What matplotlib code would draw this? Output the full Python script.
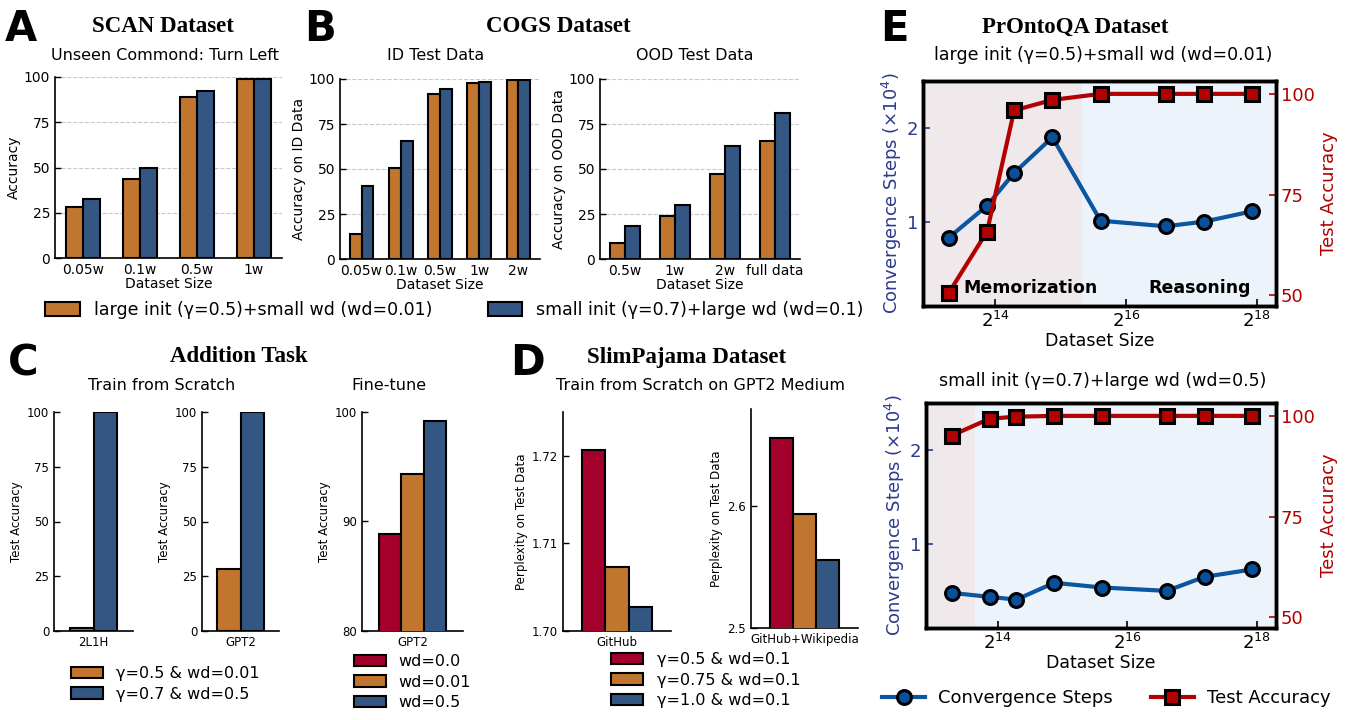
import numpy as np
import matplotlib
matplotlib.use("Agg")
import matplotlib.pyplot as plt
from matplotlib.patches import Patch
from matplotlib.lines import Line2D
from matplotlib.ticker import FormatStrFormatter, NullLocator

# ---------------- data ----------------
scan_sizes = ['0.05w', '0.1w', '0.5w', '1w']
scan_large = [28.0, 43.6, 89.1, 98.8]
scan_small = [32.5, 49.5, 92.1, 98.8]

cogs_id_sizes = ['0.05w', '0.1w', '0.5w', '1w', '2w']
cogs_id_large = [13.9, 50.6, 91.7, 97.8, 99.3]
cogs_id_small = [40.4, 65.3, 94.4, 98.3, 99.6]

cogs_ood_sizes = ['0.5w', '1w', '2w', 'full data']
cogs_ood_large = [8.7, 23.9, 47.3, 65.3]
cogs_ood_small = [18.6, 30.1, 62.9, 80.9]

add_models = ['2L1H', 'GPT2']
add_large = [1.3, 28.2]
add_small = [100.0, 100.0]

ft_model = ['GPT2']
ft_labels = ['wd=0.0', 'wd=0.01', 'wd=0.5']
ft_values = [88.9, 94.3, 99.2]

slim_labels = ['γ=0.5 & wd=0.1', 'γ=0.75 & wd=0.1', 'γ=1.0 & wd=0.1']
slim_github = [1.7207, 1.7073, 1.7027]
slim_github_wiki = [2.656, 2.594, 2.556]

pronto_sizes = [10000, 15000, 20000, 30000, 50000, 100000, 150000, 250000]
top_steps = [0.83, 1.17, 1.52, 1.90, 1.01, 0.95, 1.00, 1.11]
top_acc = [50.6, 65.8, 95.9, 98.5, 100.0, 100.0, 100.0, 100.0]
bot_steps = [0.475, 0.432, 0.403, 0.582, 0.532, 0.496, 0.646, 0.725]
bot_acc = [95.1, 99.3, 99.8, 100.0, 100.0, 100.0, 100.0, 100.0]
top_phase_split = 41000
bot_phase_split = 12900

# ---------------- style ----------------
ORANGE = '#c1762f'
BLUE = '#345683'
RED = '#a3002b'
E_BLUE = '#0b56a0'
E_BLUE_MK = '#0a4f9a'
E_RED = '#b30000'
LEFT_C = '#2b3a8f'
RIGHT_C = '#b00000'
PINK_BG = '#f0e9ec'
BLUE_BG = '#edf3fa'

W, H = 1349, 720
fig = plt.figure(figsize=(W / 100, H / 100), dpi=100)


def px(x0, y0, x1, y1):
    return [x0 / W, 1 - y1 / H, (x1 - x0) / W, (y1 - y0) / H]


def ftext(x, y, s, **kw):
    fig.text(x / W, 1 - y / H, s, **kw)


def style_bar_ax(ax, fs):
    for s in ['top', 'right']:
        ax.spines[s].set_visible(False)
    for s in ['left', 'bottom']:
        ax.spines[s].set_linewidth(1.2)
    ax.tick_params(direction='in', labelsize=fs, length=4, width=1)


SERIF = ['Liberation Serif', 'DejaVu Serif']

# panel letters
for (x, y, s) in [(5, 41, 'A'), (304, 41, 'B'), (8, 375, 'C'), (510, 375, 'D'), (880, 41, 'E')]:
    ftext(x, y, s, fontsize=30, fontweight='heavy', va='baseline', ha='left')

# ---------------- A: SCAN ----------------
ftext(163, 26, 'SCAN Dataset', fontsize=16.5, fontweight='bold', family=SERIF, ha='center', va='center')
ftext(165, 56, 'Unseen Commond: Turn Left', fontsize=11.5, ha='center', va='center')
axA = fig.add_axes(px(55, 77, 282, 258))
x = np.arange(len(scan_sizes))
axA.bar(x - 0.15, scan_large, 0.3, color=ORANGE, edgecolor='black', linewidth=1.5, zorder=3)
axA.bar(x + 0.15, scan_small, 0.3, color=BLUE, edgecolor='black', linewidth=1.5, zorder=3)
axA.set_xticks(x, scan_sizes)
axA.set_xlim(-0.5, 3.5)
axA.set_ylim(0, 100)
axA.set_yticks([0, 25, 50, 75, 100])
axA.yaxis.grid(True, linestyle='--', color='#c8c8c8', linewidth=0.8, zorder=0)
axA.set_ylabel('Accuracy', fontsize=10, labelpad=2)
axA.set_xlabel('Dataset Size', fontsize=10, labelpad=0)
style_bar_ax(axA, 10)

# ---------------- B: COGS ----------------
ftext(558, 27, 'COGS Dataset', fontsize=16.5, fontweight='bold', family=SERIF, ha='center', va='center')
ftext(436, 55, 'ID Test Data', fontsize=11.5, ha='center', va='center')
ftext(695, 55, 'OOD Test Data', fontsize=11.5, ha='center', va='center')

axB1 = fig.add_axes(px(340, 79, 540, 259))
x = np.arange(len(cogs_id_sizes))
axB1.bar(x - 0.15, cogs_id_large, 0.3, color=ORANGE, edgecolor='black', linewidth=1.5, zorder=3)
axB1.bar(x + 0.15, cogs_id_small, 0.3, color=BLUE, edgecolor='black', linewidth=1.5, zorder=3)
axB1.set_xticks(x, cogs_id_sizes)
axB1.set_xlim(-0.55, 4.55)
axB1.set_ylim(0, 100)
axB1.set_yticks([0, 25, 50, 75, 100])
axB1.yaxis.grid(True, linestyle='--', color='#c8c8c8', linewidth=0.8, zorder=0)
axB1.set_ylabel('Accuracy on ID Data', fontsize=10, labelpad=2)
axB1.set_xlabel('Dataset Size', fontsize=10, labelpad=0)
style_bar_ax(axB1, 10)

axB2 = fig.add_axes(px(600, 79, 800, 259))
x = np.arange(len(cogs_ood_sizes))
axB2.bar(x - 0.15, cogs_ood_large, 0.3, color=ORANGE, edgecolor='black', linewidth=1.5, zorder=3)
axB2.bar(x + 0.15, cogs_ood_small, 0.3, color=BLUE, edgecolor='black', linewidth=1.5, zorder=3)
axB2.set_xticks(x, cogs_ood_sizes)
axB2.set_xlim(-0.5, 3.5)
axB2.set_ylim(0, 100)
axB2.set_yticks([0, 25, 50, 75, 100])
axB2.yaxis.grid(True, linestyle='--', color='#c8c8c8', linewidth=0.8, zorder=0)
axB2.set_ylabel('Accuracy on OOD Data', fontsize=10, labelpad=2)
axB2.set_xlabel('Dataset Size', fontsize=10, labelpad=0)
style_bar_ax(axB2, 10)

legAB = [Patch(facecolor=ORANGE, edgecolor='black', linewidth=1.5),
         Patch(facecolor=BLUE, edgecolor='black', linewidth=1.5)]
fig.legend(legAB, ['large init (γ=0.5)+small wd (wd=0.01)', 'small init (γ=0.7)+large wd (wd=0.1)'],
           loc='upper left', bbox_to_anchor=(45 / W, 1 - 301 / H), borderaxespad=0, borderpad=0,
           frameon=False, ncol=2, fontsize=12.5, handlelength=2.0, handleheight=0.8,
           handletextpad=0.8, columnspacing=3.2)

# ---------------- C: Addition ----------------
ftext(239, 357, 'Addition Task', fontsize=16.5, fontweight='bold', family=SERIF, ha='center', va='center')
ftext(162, 386, 'Train from Scratch', fontsize=11.5, ha='center', va='center')
ftext(389, 386, 'Fine-tune', fontsize=11.5, ha='center', va='center')

for i, (x0, x1) in enumerate([(54, 133), (202, 279)]):
    ax = fig.add_axes(px(x0, 412, x1, 631))
    ax.bar([-0.15], [add_large[i]], 0.3, color=ORANGE, edgecolor='black', linewidth=1.5, zorder=3)
    ax.bar([0.15], [add_small[i]], 0.3, color=BLUE, edgecolor='black', linewidth=1.5, zorder=3)
    ax.set_xticks([0], [add_models[i]])
    ax.set_xlim(-0.5, 0.5)
    ax.set_ylim(0, 100)
    ax.set_yticks([0, 25, 50, 75, 100])
    ax.set_ylabel('Test Accuracy', fontsize=8.5, labelpad=3)
    style_bar_ax(ax, 8.5)

axC3 = fig.add_axes(px(362, 412, 463, 631))
ft_colors = [RED, ORANGE, BLUE]
for j, v in enumerate(ft_values):
    axC3.bar([(j - 1) * 0.22], [v], 0.22, color=ft_colors[j], edgecolor='black', linewidth=1.5, zorder=3)
axC3.set_xticks([0], ft_model)
axC3.set_xlim(-0.5, 0.5)
axC3.set_ylim(80, 100)
axC3.set_yticks([80, 90, 100])
axC3.set_ylabel('Test Accuracy', fontsize=8.5, labelpad=3)
style_bar_ax(axC3, 8.5)

fig.legend(legAB, ['γ=0.5 & wd=0.01', 'γ=0.7 & wd=0.5'],
           loc='upper left', bbox_to_anchor=(71 / W, 1 - 666 / H), borderaxespad=0, borderpad=0,
           frameon=False, fontsize=11.5, handlelength=2.0, handleheight=0.75,
           handletextpad=0.8, labelspacing=0.35)
legFT = [Patch(facecolor=c, edgecolor='black', linewidth=1.5) for c in ft_colors]
fig.legend(legFT, ft_labels,
           loc='upper left', bbox_to_anchor=(354 / W, 1 - 654 / H), borderaxespad=0, borderpad=0,
           frameon=False, fontsize=11.5, handlelength=2.0, handleheight=0.75,
           handletextpad=0.8, labelspacing=0.35)

# ---------------- D: SlimPajama ----------------
ftext(687, 357, 'SlimPajama Dataset', fontsize=16.5, fontweight='bold', family=SERIF, ha='center', va='center')
ftext(701, 386, 'Train from Scratch on GPT2 Medium', fontsize=11.5, ha='center', va='center')

axD1 = fig.add_axes(px(563, 412, 671, 631))
for j, v in enumerate(slim_github):
    axD1.bar([(j - 1) * 0.216], [v], 0.216, color=ft_colors[j], edgecolor='black', linewidth=1.5, zorder=3)
axD1.set_xticks([0], ['GitHub'])
axD1.set_xlim(-0.5, 0.5)
axD1.set_ylim(1.70, 1.725)
axD1.set_yticks([1.70, 1.71, 1.72])
axD1.yaxis.set_major_formatter(FormatStrFormatter('%.2f'))
axD1.set_ylabel('Perplexity on Test Data', fontsize=8.5, labelpad=3)
style_bar_ax(axD1, 8.5)

axD2 = fig.add_axes(px(751, 409, 858, 628))
for j, v in enumerate(slim_github_wiki):
    axD2.bar([(j - 1) * 0.215], [v], 0.215, color=ft_colors[j], edgecolor='black', linewidth=1.5, zorder=3)
axD2.set_xticks([0], ['GitHub+Wikipedia'])
axD2.set_xlim(-0.5, 0.5)
axD2.set_ylim(2.5, 2.68)
axD2.set_yticks([2.5, 2.6])
axD2.yaxis.set_major_formatter(FormatStrFormatter('%.1f'))
axD2.set_ylabel('Perplexity on Test Data', fontsize=8.5, labelpad=3)
style_bar_ax(axD2, 8.5)

fig.legend(legFT, slim_labels,
           loc='upper left', bbox_to_anchor=(611 / W, 1 - 652 / H), borderaxespad=0, borderpad=0,
           frameon=False, fontsize=11.5, handlelength=2.0, handleheight=0.75,
           handletextpad=0.85, labelspacing=0.35)

# ---------------- E: PrOntoQA ----------------
ftext(1075, 27, 'PrOntoQA Dataset', fontsize=16.5, fontweight='bold', family=SERIF, ha='center', va='center')
ftext(1103, 55, 'large init (γ=0.5)+small wd (wd=0.01)', fontsize=12.5, ha='center', va='center')
ftext(1103, 381, 'small init (γ=0.7)+large wd (wd=0.5)', fontsize=12.5, ha='center', va='center')


def e_panel(rect, steps, acc, split, show_text):
    ax = fig.add_axes(rect)
    ax.set_xscale('log', base=2)
    ax.set_xlim(7600, 322000)
    ax.axvspan(7600, split, color=PINK_BG, zorder=0, lw=0)
    ax.axvspan(split, 322000, color=BLUE_BG, zorder=0, lw=0)
    ax.plot(pronto_sizes, steps, '-o', color=E_BLUE, lw=3, ms=10,
            mfc=E_BLUE_MK, mec='black', mew=2.2, zorder=3)
    ax.set_ylim(0.1, 2.5)
    ax.set_yticks([1, 2])
    ax.set_xticks([2 ** 14, 2 ** 16, 2 ** 18], [r'$2^{14}$', r'$2^{16}$', r'$2^{18}$'])
    ax.xaxis.set_minor_locator(NullLocator())
    ax.tick_params(axis='x', direction='in', labelsize=13, length=5, width=1.2)
    ax.tick_params(axis='y', direction='in', labelsize=13, length=5, width=1.2, colors=LEFT_C)
    ax.set_ylabel(r'Convergence Steps ($\times 10^4$)', fontsize=13, color=LEFT_C, labelpad=2)
    ax.set_xlabel('Dataset Size', fontsize=12.5, labelpad=1)
    for s in ax.spines.values():
        s.set_linewidth(2.5)
    ax2 = ax.twinx()
    ax2.plot(pronto_sizes, acc, '-s', color=E_RED, lw=3, ms=10,
             mfc=E_RED, mec='black', mew=2.2, zorder=3)
    ax2.set_ylim(47.3, 103.2)
    ax2.set_yticks([50, 75, 100])
    ax2.tick_params(axis='y', direction='in', labelsize=13, length=5, width=1.2, colors=RIGHT_C)
    ax2.set_ylabel('Test Accuracy', fontsize=13, color=RIGHT_C, labelpad=4)
    for s in ax2.spines.values():
        s.set_linewidth(2.5)
    if show_text:
        ax.text(0.113, 0.08, 'Memorization', transform=ax.transAxes, fontsize=12.5,
                fontweight='bold', ha='left', va='center', zorder=5)
        ax.text(0.93, 0.08, 'Reasoning', transform=ax.transAxes, fontsize=12.5,
                fontweight='bold', ha='right', va='center', zorder=5)
    return ax


e_panel(px(923, 81, 1276, 306), top_steps, top_acc, top_phase_split, True)
e_panel(px(926, 403, 1276, 628), bot_steps, bot_acc, bot_phase_split, False)

legE = [Line2D([], [], color=E_BLUE, lw=3, marker='o', ms=10, mfc=E_BLUE_MK, mec='black', mew=2.2),
        Line2D([], [], color=E_RED, lw=3, marker='s', ms=10, mfc=E_RED, mec='black', mew=2.2)]
fig.legend(legE, ['Convergence Steps', 'Test Accuracy'],
           loc='upper left', bbox_to_anchor=(882 / W, 1 - 689 / H), borderaxespad=0, borderpad=0,
           frameon=False, ncol=2, fontsize=13, handlelength=2.4,
           handletextpad=0.7, columnspacing=2.1)

fig.savefig('out.png', dpi=100)
